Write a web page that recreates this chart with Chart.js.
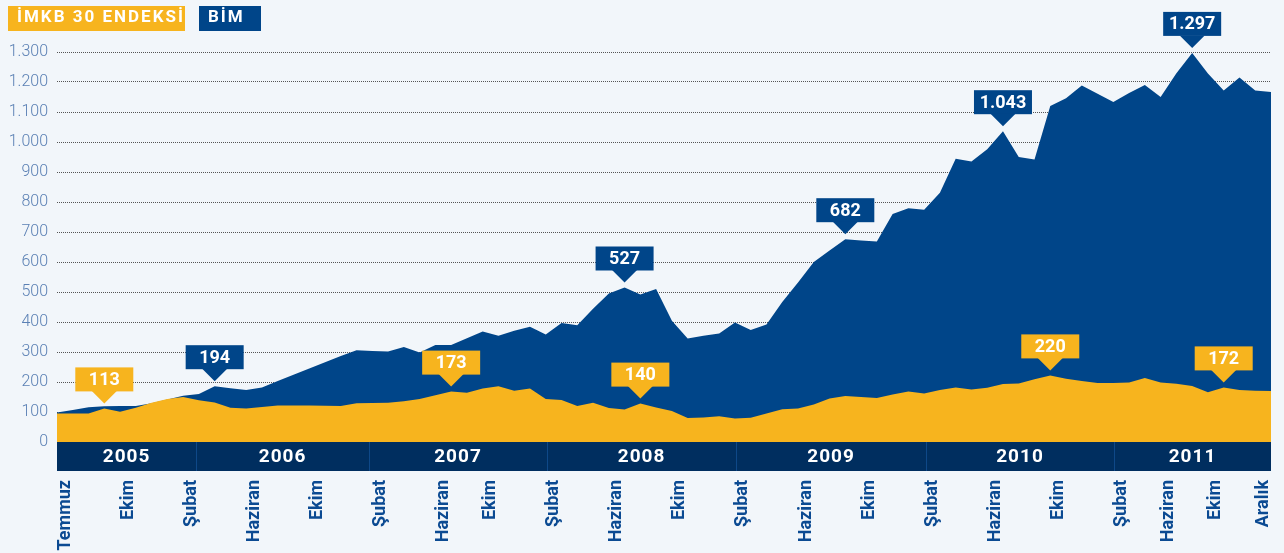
<!DOCTYPE html>
<html><head><meta charset="utf-8">
<script src="https://cdn.jsdelivr.net/npm/chart.js@4/dist/chart.umd.min.js"></script>
<style>
html,body{margin:0;padding:0;background:#F2F6FA;}
#wrap{position:relative;width:1284px;height:553px;overflow:hidden;}
#legend{position:absolute;left:8px;top:6px;display:flex;gap:14px;}
.lg{height:25px;line-height:25px;padding:0 0 0 9px;color:#fff;font:bold 17px Roboto, sans-serif;letter-spacing:2px;box-sizing:border-box;white-space:nowrap;}
canvas{display:block;}
</style></head><body>
<div id="wrap"><canvas id="c" width="1284" height="553"></canvas><div id="legend"></div></div>
<script>
// ---- data ----
const seriesNames = ['İMKB 30 ENDEKSİ', 'BİM'];
const startYear = 2005, startMonth = 7, monthCount = 78;   // Temmuz 2005 - Aralık 2011
const imkb = [95,95,95,112,101,114,131,143,150,139,132,114,112,117,122,122,122,121,120,129,
  130,131,136,143,156,168,164,178,186,171,178,143,140,120,131,113,108,128,115,103,
  80,82,86,78,81,95,109,112,125,145,153,150,147,158,168,162,173,182,175,181,
  193,195,209,222,211,203,197,197,198,213,198,194,187,166,182,173,171,170];
const bim = [98,107,116,119,120,120,129,142,154,160,186,179,173,182,203,224,245,266,287,306,
  303,302,317,298,323,323,346,368,354,371,384,358,397,389,444,495,515,492,510,404,
  345,354,362,398,373,392,467,532,600,638,676,672,668,760,779,774,831,944,935,976,
  1036,950,942,1120,1146,1188,1161,1133,1163,1190,1150,1229,1297,1228,1172,1215,1172,1167];
const tickIndex = [0,4,8,12,16,20,24,27,31,35,39,43,47,51,55,59,63,67,70,73,76];
const tickNames = ['Temmuz','Ekim','Şubat','Haziran','Ekim','Şubat','Haziran','Ekim','Şubat','Haziran',
  'Ekim','Şubat','Haziran','Ekim','Şubat','Haziran','Ekim','Şubat','Haziran','Ekim','Aralık'];
const yearNames = ['2005','2006','2007','2008','2009','2010','2011'];
const yearBounds = [0, 8.82, 19.79, 31.08, 43.07, 55.12, 67.04, 77];
const imkbCallouts = [[3,'113'],[25,'173'],[37,'140'],[63,'220'],[74,'172']];
const bimCallouts = [[10,'194'],[36,'527'],[50,'682'],[60,'1.043'],[72,'1.297']];

// ---- build ----
const categories = [];
for (let k = 0; k < monthCount; k++) {
  const m = (startMonth - 1 + k);
  categories.push((startYear + Math.floor(m / 12)) + '-' + String(m % 12 + 1).padStart(2, '0'));
}
const YELLOW = '#F7B41E', NAVY = '#004589', BAND = '#002E5F';
const fmt = v => String(v).replace(/\B(?=(\d{3})+(?!\d))/g, '.');

const yearBand = {
  id: 'yearBand',
  afterDraw(chart) {
    const {ctx, chartArea: a, scales: {x}} = chart;
    const top = a.bottom, h = 29;
    ctx.save();
    ctx.fillStyle = BAND;
    ctx.fillRect(a.left, top, a.right - a.left, h);
    ctx.font = 'bold 19px Roboto, sans-serif';
    ctx.letterSpacing = '1px';
    ctx.textAlign = 'center';
    ctx.textBaseline = 'middle';
    for (let k = 0; k < yearNames.length; k++) {
      const x0 = x.getPixelForValue(yearBounds[k]);
      const x1 = x.getPixelForValue(yearBounds[k + 1]);
      if (k > 0) {
        ctx.fillStyle = '#0E4888';
        ctx.fillRect(Math.round(x0), top, 1, h);
      }
      ctx.fillStyle = '#FFFFFF';
      ctx.fillText(yearNames[k], (x0 + x1) / 2, top + h / 2 + 1);
    }
    ctx.restore();
  }
};

const callouts = {
  id: 'callouts',
  afterDatasetsDraw(chart) {
    const ctx = chart.ctx;
    const groups = [[0, imkbCallouts, YELLOW], [1, bimCallouts, NAVY]];
    ctx.save();
    for (const [ds, list, col] of groups) {
      const meta = chart.getDatasetMeta(ds);
      for (const [i, txt] of list) {
        const el = meta.data[i];
        const px = el.x, tip = el.y - 5;
        const bw = 58, bh = 24, th = 12, tw = 12.5;
        const bottom = tip - th, topY = bottom - bh;
        ctx.fillStyle = col;
        ctx.fillRect(px - bw / 2, topY, bw, bh);
        ctx.beginPath();
        ctx.moveTo(px - tw, bottom - 0.5);
        ctx.lineTo(px + tw, bottom - 0.5);
        ctx.lineTo(px, tip);
        ctx.closePath();
        ctx.fill();
        ctx.fillStyle = '#FFFFFF';
        ctx.font = 'bold 18px Roboto, sans-serif';
        ctx.textAlign = 'center';
        ctx.textBaseline = 'middle';
        ctx.fillText(txt, px, topY + bh / 2 + 1);
      }
    }
    ctx.restore();
  }
};

const chart = new Chart(document.getElementById('c'), {
  type: 'line',
  data: {
    labels: categories,
    datasets: [
      {label: seriesNames[0], data: imkb, backgroundColor: YELLOW, borderWidth: 0, pointRadius: 0, fill: 'origin', tension: 0},
      {label: seriesNames[1], data: bim, backgroundColor: NAVY, borderWidth: 0, pointRadius: 0, fill: 'origin', tension: 0}
    ]
  },
  options: {
    responsive: false,
    devicePixelRatio: 1,
    animation: false,
    layout: {padding: {top: 52, right: 13, left: 0, bottom: 0}},
    plugins: {legend: {display: false}, tooltip: {enabled: false}},
    scales: {
      x: {
        offset: false,
        grid: {display: false, drawTicks: false},
        border: {display: false},
        afterFit(s) { s.height = 111; s.paddingLeft = 0; s.paddingRight = 0; },
        ticks: {
          autoSkip: false, minRotation: 90, maxRotation: 90, padding: 38, labelOffset: 8,
          color: '#0B4A92',
          font: {family: 'Roboto, sans-serif', size: 18, weight: 'bold'},
          callback: (v, i) => { const p = tickIndex.indexOf(i); return p >= 0 ? tickNames[p] : ''; }
        }
      },
      y: {
        min: 0, max: 1300,
        grid: {color: '#555555', borderDash: [1, 1], lineWidth: 1, drawTicks: false},
        border: {display: false, dash: [1, 1]},
        afterFit(s) { s.width = 57; },
        ticks: {
          stepSize: 100, padding: 9, color: '#5B80B4',
          font: {family: 'Roboto, sans-serif', size: 16, weight: '300'},
          callback: v => fmt(v)
        }
      }
    }
  },
  plugins: [yearBand, callouts]
});

// HTML legend built from the datasets
const legend = document.getElementById('legend');
const widths = [177, 62];
chart.data.datasets.forEach((d, k) => {
  const el = document.createElement('div');
  el.className = 'lg';
  el.style.background = d.backgroundColor;
  el.style.width = widths[k] + 'px';
  el.textContent = d.label;
  legend.appendChild(el);
});
</script>
</body></html>
